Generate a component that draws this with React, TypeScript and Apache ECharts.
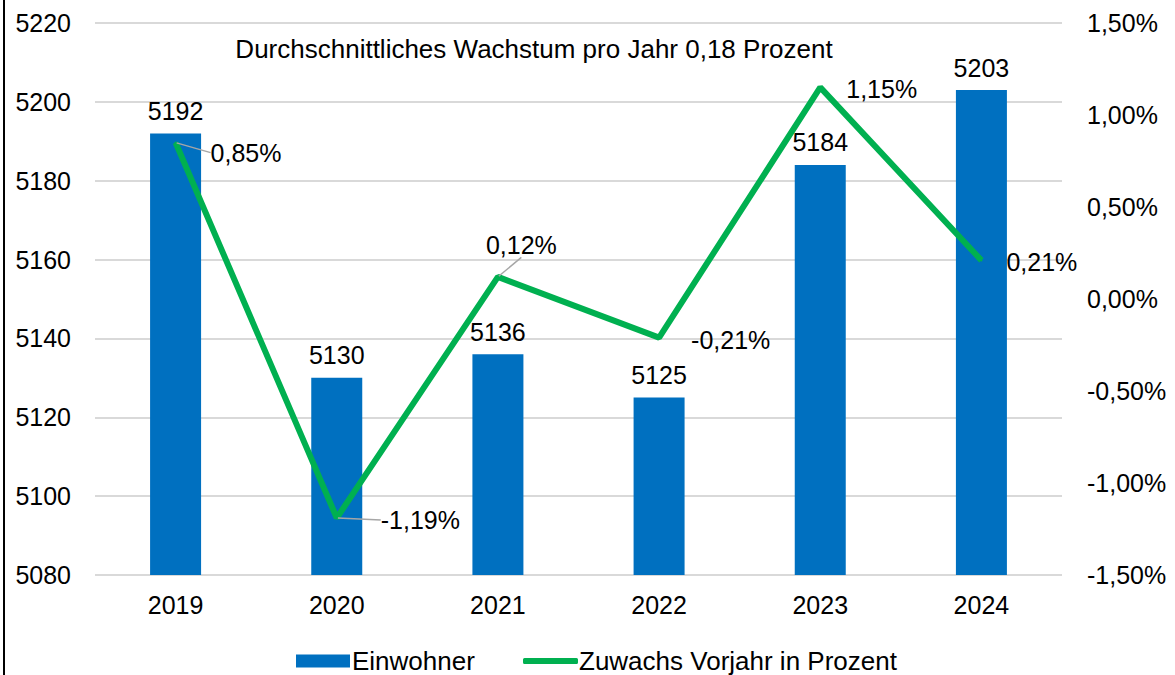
import React, { useEffect, useRef } from "react";
import * as echarts from "echarts";

const categories = ["2019", "2020", "2021", "2022", "2023", "2024"];
const einwohner = [5192, 5130, 5136, 5125, 5184, 5203];
const zuwachs = [0.85, -1.19, 0.12, -0.21, 1.15, 0.21];
const labelOffsets = [
  [34, 10, true],
  [43, 2, true],
  [-13, -32, true],
  [31, 2, false],
  [25, 2, false],
  [24, 2, false],
];
const title = "Durchschnittliches Wachstum pro Jahr 0,18 Prozent";

const FONT = "'Liberation Sans', Arial, sans-serif";
const FS = 25;
const fmtPct = (v: number) => v.toFixed(2).replace(".", ",") + "%";

export default function App() {
  const ref = useRef<HTMLDivElement>(null);
  useEffect(() => {
    document.body.style.margin = "0";
    const chart = echarts.init(ref.current!, undefined, { renderer: "svg" });
    chart.setOption({
      animation: false,
      backgroundColor: "#ffffff",
      textStyle: { fontFamily: FONT },
      title: {
        text: title,
        left: 534,
        top: 36,
        padding: 0,
        textAlign: "center",
        textStyle: { fontFamily: FONT, fontSize: 26, fontWeight: "normal", color: "#000" },
      },
      graphic: [
        { type: "line", shape: { x1: 4, y1: 0, x2: 4, y2: 675 }, style: { stroke: "#000", lineWidth: 2 } },
      ],
      legend: [
        {
          top: 648,
          left: 296,
          padding: 0,
          itemWidth: 54,
          itemHeight: 13,
          textStyle: { fontFamily: FONT, fontSize: 26, color: "#000", lineHeight: 26, padding: [0, 0, 0, -3] },
          data: [{ name: "Einwohner", icon: "rect" }],
        },
        {
          top: 648,
          left: 523,
          padding: 0,
          itemWidth: 55,
          itemHeight: 6,
          textStyle: { fontFamily: FONT, fontSize: 26, color: "#000", lineHeight: 26, padding: [0, 0, 0, -4] },
          data: [{ name: "Zuwachs Vorjahr in Prozent", icon: "roundRect" }],
        },
      ],
      grid: { left: 95, right: 113, top: 23, bottom: 100, containLabel: false },
      xAxis: {
        type: "category",
        data: categories,
        axisLine: { show: false },
        axisTick: { show: false },
        axisLabel: { fontFamily: FONT, fontSize: FS, color: "#000", margin: 17 },
      },
      yAxis: [
        {
          type: "value",
          min: 5080,
          max: 5220,
          interval: 20,
          axisLine: { show: false },
          axisTick: { show: false },
          splitLine: { lineStyle: { color: "#d9d9d9", width: 2 } },
          axisLabel: { fontFamily: FONT, fontSize: FS, color: "#000", margin: 24, formatter: (v: number) => String(v) },
        },
        {
          type: "value",
          min: -1.5,
          max: 1.5,
          interval: 0.5,
          axisLine: { show: false },
          axisTick: { show: false },
          splitLine: { show: false },
          axisLabel: { fontFamily: FONT, fontSize: FS, color: "#000", margin: 25, formatter: (v: number) => fmtPct(v) },
        },
      ],
      series: [
        {
          name: "Einwohner",
          type: "bar",
          data: einwohner,
          barWidth: 51,
          itemStyle: { color: "#0070C0" },
          label: {
            show: true,
            position: "top",
            distance: 10,
            fontFamily: FONT,
            fontSize: FS,
            color: "#000",
          },
        },
        {
          name: "Zuwachs Vorjahr in Prozent",
          type: "line",
          yAxisIndex: 1,
          data: zuwachs.map((v, i) => ({
            value: v,
            labelLine: { show: labelOffsets[i][2] as boolean },
          })),
          symbol: "circle",
          symbolSize: 2,
          showSymbol: true,
          lineStyle: { color: "#00B050", width: 6 },
          itemStyle: { color: "#00B050" },
          label: {
            show: true,
            position: "right",
            distance: 0,
            fontFamily: FONT,
            fontSize: FS,
            color: "#000",
            formatter: (p: any) => fmtPct(p.value),
          },
          labelLine: { show: true, lineStyle: { color: "#a6a6a6", width: 1.5 } },
          labelLayout: (p: any) => ({
            dx: labelOffsets[p.dataIndex][0] as number,
            dy: labelOffsets[p.dataIndex][1] as number,
          }),
          z: 3,
        },
      ],
    });
    return () => chart.dispose();
  }, []);
  return <div ref={ref} style={{ width: 1175, height: 675 }} />;
}
